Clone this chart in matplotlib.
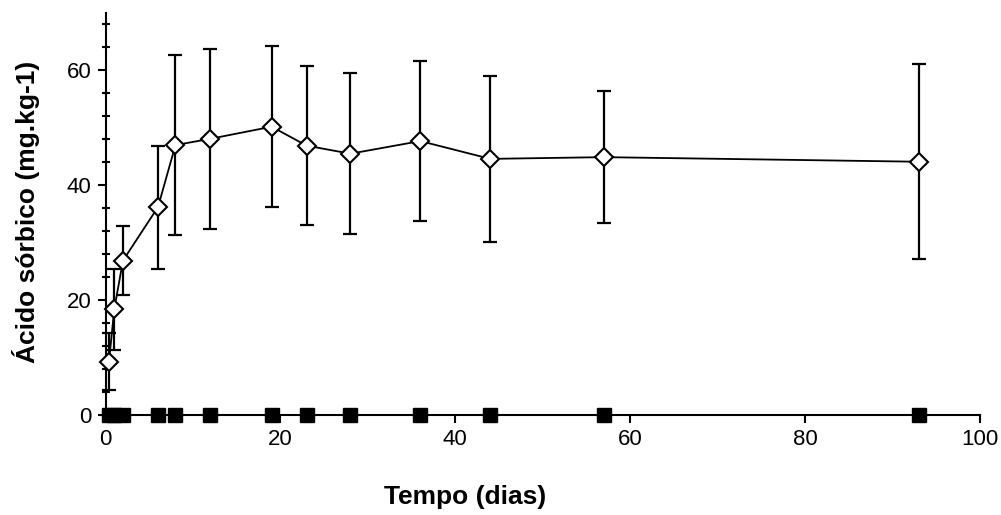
import matplotlib
matplotlib.use("Agg")
import matplotlib.pyplot as plt
from matplotlib.ticker import MultipleLocator

# Storage time (days)
tempo = [0.4, 1, 2, 6, 8, 12, 19, 23, 28, 36, 44, 57, 93]
# Sorbic acid, treated samples: mean and standard deviation
acido_medio = [9.3, 18.4, 26.9, 36.2, 47.0, 48.1, 50.2, 46.9, 45.5, 47.7, 44.6, 44.9, 44.1]
acido_dp = [5.0, 7.0, 6.0, 10.7, 15.7, 15.7, 14.0, 13.8, 14.0, 14.0, 14.4, 11.5, 17.0]
# Sorbic acid, control samples
controle = [0, 0, 0, 0, 0, 0, 0, 0, 0, 0, 0, 0, 0]

x_ticks = [0, 20, 40, 60, 80, 100]
y_ticks = [0, 20, 40, 60]

plt.rcParams['font.family'] = ['Liberation Sans', 'DejaVu Sans']

W, H = 1001, 515
fig = plt.figure(figsize=(W / 100, H / 100), dpi=100)
ax = fig.add_axes([105.5 / W, (H - 415) / H, (980 - 105.5) / W, (415 - 13) / H])

ax.errorbar(tempo, acido_medio, yerr=acido_dp, fmt='none', ecolor='black',
            elinewidth=1.6, capsize=5, capthick=1.6, zorder=2, clip_on=False)
ax.plot(tempo, acido_medio, color='black', lw=1.3, marker='D', ms=9.5,
        mfc='white', mec='black', mew=1.5, zorder=3, clip_on=False)
ax.plot(tempo, controle, color='black', lw=1.3, marker='s', ms=10,
        mfc='black', mec='black', zorder=4, clip_on=False)

ax.set_xlim(0, 100)
ax.set_ylim(0, 70)
ax.set_xticks(x_ticks)
ax.set_yticks(y_ticks)
ax.yaxis.set_minor_locator(MultipleLocator(4))

for s in ['top', 'right']:
    ax.spines[s].set_visible(False)
for s in ['left', 'bottom']:
    ax.spines[s].set_linewidth(1.5)

ax.tick_params(axis='both', which='major', direction='out', length=6, width=1.5,
               labelsize=16, pad=4)
ax.tick_params(axis='y', which='minor', direction='inout', length=6, width=1.5)

fig.text(465 / W, (H - 497) / H, 'Tempo (dias)', ha='center', va='center',
         fontsize=19, fontweight='bold')
fig.text(26 / W, (H - 212) / H, 'Ácido sórbico (mg.kg-1)', ha='center', va='center',
         rotation=90, fontsize=19, fontweight='bold')

fig.savefig('out.png', dpi=100)
